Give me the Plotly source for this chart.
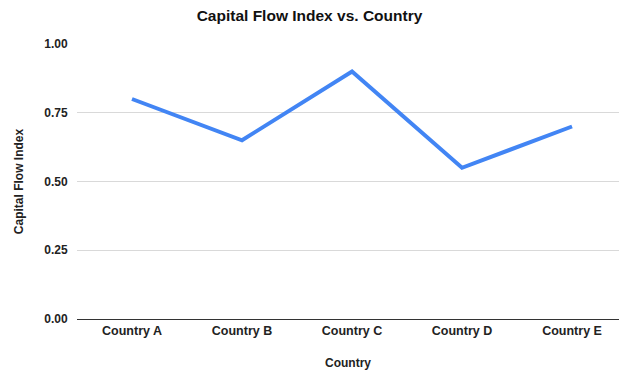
import plotly.graph_objects as go

countries = ["Country A", "Country B", "Country C", "Country D", "Country E"]
capital_flow_index = [0.80, 0.65, 0.90, 0.55, 0.70]
y_ticks = [0, 0.25, 0.5, 0.75, 1.0]
y_tick_labels = ["0.00", "0.25", "0.50", "0.75", "1.00"]

font_family = "Liberation Sans, Arial, sans-serif"

fig = go.Figure(go.Scatter(
    x=countries, y=capital_flow_index, mode="lines",
    line=dict(color="#4285F4", width=4),
))

fig.update_layout(
    width=619, height=370,
    margin=dict(l=77, r=0, t=44, b=51),
    paper_bgcolor="white", plot_bgcolor="white",
    showlegend=False,
    font=dict(family=font_family, color="#222222"),
    title=dict(text="<b>Capital Flow Index vs. Country</b>", x=0.5, xanchor="center",
               y=1 - 16 / 370, yanchor="middle", font=dict(size=15.5, color="#111111")),
)

fig.update_xaxes(
    range=[-0.5, 4.427], showgrid=False, showline=True, linecolor="#333333", linewidth=1.3,
    ticks="", tickfont=dict(size=12.5, color="#222222"),
    tickprefix="<b>", ticksuffix="</b>",
    title=dict(text="<b>Country</b>", font=dict(size=12, color="#222222"), standoff=24),
)
fig.update_yaxes(
    range=[0, 1], tickvals=y_ticks, ticktext=["<b>" + t + "</b>" for t in y_tick_labels],
    showgrid=True, gridcolor="#d9d9d9", gridwidth=1, zeroline=False,
    ticks="outside", ticklen=6, tickcolor="rgba(0,0,0,0)",
    tickfont=dict(size=12, color="#222222"),
    title=dict(text="<b>Capital Flow Index</b>", font=dict(size=12, color="#222222"), standoff=18),
)

fig.write_html("out.html")
